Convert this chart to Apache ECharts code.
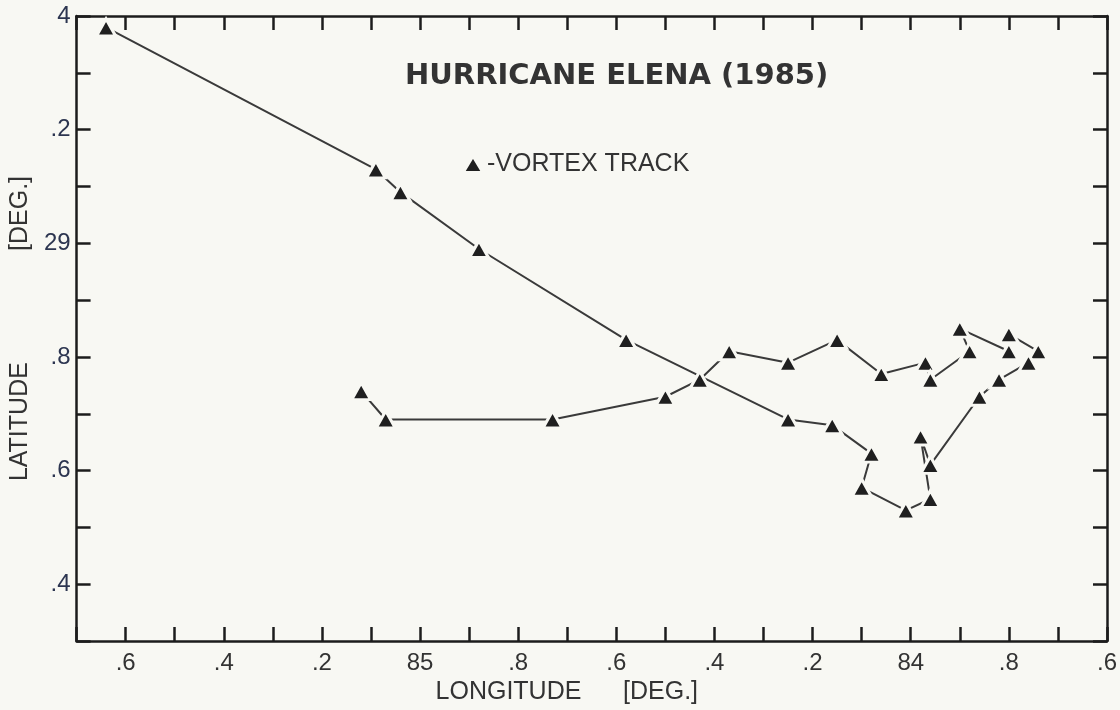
<!DOCTYPE html>
<html>
<head>
<meta charset="utf-8">
<script src="https://cdn.jsdelivr.net/npm/echarts@6/dist/echarts.min.js"></script>
<style>
  html, body { margin: 0; padding: 0; background: #f8f8f3; }
  #chart { width: 1120px; height: 710px; }
</style>
</head>
<body>
<div id="chart"></div>
<script>
// Vortex track of Hurricane Elena (1985), in track order
const trackLon = [85.12, 85.07, 84.73, 84.50, 84.43, 84.37, 84.25, 84.15, 84.06, 83.97,
                  83.96, 83.88, 83.90, 83.80, 83.80, 83.74, 83.76, 83.82, 83.86, 83.96,
                  83.98, 83.96, 84.01, 84.10, 84.08, 84.16, 84.25, 84.58, 84.88, 85.04,
                  85.09, 85.64];
const trackLat = [28.74, 28.69, 28.69, 28.73, 28.76, 28.81, 28.79, 28.83, 28.77, 28.79,
                  28.76, 28.81, 28.85, 28.81, 28.84, 28.81, 28.79, 28.76, 28.73, 28.61,
                  28.66, 28.55, 28.53, 28.57, 28.63, 28.68, 28.69, 28.83, 28.99, 29.09,
                  29.13, 29.38];

// Tick labels as printed on the chart
const xTickValues = [85.6, 85.4, 85.2, 85.0, 84.8, 84.6, 84.4, 84.2, 84.0, 83.8, 83.6];
const xTickLabels = ['.6', '.4', '.2', '85', '.8', '.6', '.4', '.2', '84', '.8', '.6'];
const yTickValues = [28.4, 28.6, 28.8, 29.0, 29.2, 29.4];
const yTickLabels = ['.4', '.6', '.8', '29', '.2', '4'];

const titleText = 'HURRICANE ELENA (1985)';
const seriesName = 'VORTEX TRACK';
const xName = 'LONGITUDE      [DEG.]';
const yName = 'LATITUDE                [DEG.]';

const data = trackLon.map((x, i) => [x, trackLat[i]]);

function lookup(values, labels, v) {
  const k = Math.round(v * 10);
  for (let i = 0; i < values.length; i++) {
    if (Math.round(values[i] * 10) === k) return labels[i];
  }
  return '';
}

const ink = '#1c1c1c';
const FONT = 'Liberation Sans';

const axisCommon = {
  type: 'value',
  interval: 0.1,
  splitLine: { show: false },
  axisLine: { show: true, onZero: false, lineStyle: { color: ink, width: 2.5 } },
  axisTick: { show: true, inside: true, length: 14, lineStyle: { color: ink, width: 2.5 } }
};

const chart = echarts.init(document.getElementById('chart'), null, { renderer: 'canvas' });
chart.setOption({
  backgroundColor: '#f8f8f3',
  animation: false,
  title: {
    text: titleText,
    left: 400,
    top: 57,
    textStyle: { fontFamily: 'DejaVu Sans', fontWeight: 'bold', fontSize: 29, color: '#333' }
  },
  legend: {
    data: [seriesName],
    left: 458,
    top: 147,
    icon: 'triangle',
    itemWidth: 18,
    itemHeight: 15,
    itemGap: 4,
    formatter: n => '-' + n,
    textStyle: { fontFamily: FONT, fontSize: 25, color: '#333' }
  },
  grid: { left: 70, right: 13, top: 16, bottom: 67 },
  xAxis: [
    Object.assign({}, axisCommon, {
      position: 'bottom',
      min: 83.6, max: 85.7, inverse: true,
      name: xName,
      nameLocation: 'middle',
      nameGap: 36,
      nameTextStyle: { fontFamily: FONT, fontSize: 25, color: '#333', padding: [0, 50, 0, 0] },
      axisLabel: {
        show: true, margin: 10, showMinLabel: true, showMaxLabel: true,
        fontFamily: FONT, fontSize: 24, color: '#333',
        formatter: v => lookup(xTickValues, xTickLabels, v)
      }
    }),
    Object.assign({}, axisCommon, {
      position: 'top',
      min: 83.6, max: 85.7, inverse: true,
      axisLabel: { show: false }
    })
  ],
  yAxis: [
    Object.assign({}, axisCommon, {
      position: 'left',
      min: 28.3, max: 29.4,
      name: yName,
      nameLocation: 'middle',
      nameGap: 32,
      nameRotate: 90,
      nameTextStyle: { fontFamily: FONT, fontSize: 25, color: '#333' },
      axisLabel: {
        show: true, margin: 6, showMinLabel: true, showMaxLabel: true,
        fontFamily: FONT, fontSize: 24, color: '#2c3550',
        formatter: v => lookup(yTickValues, yTickLabels, v)
      }
    }),
    Object.assign({}, axisCommon, {
      position: 'right',
      min: 28.3, max: 29.4,
      axisLabel: { show: false }
    })
  ],
  series: [{
    name: seriesName,
    type: 'line',
    xAxisIndex: 0,
    yAxisIndex: 0,
    data: data,
    symbol: 'triangle',
    symbolSize: [19, 17],
    showAllSymbol: true,
    lineStyle: { color: '#3a3a3a', width: 2 },
    itemStyle: { color: '#1f1f1f', borderColor: '#f8f8f3', borderWidth: 3 },
    z: 3
  }]
});
</script>
</body>
</html>
